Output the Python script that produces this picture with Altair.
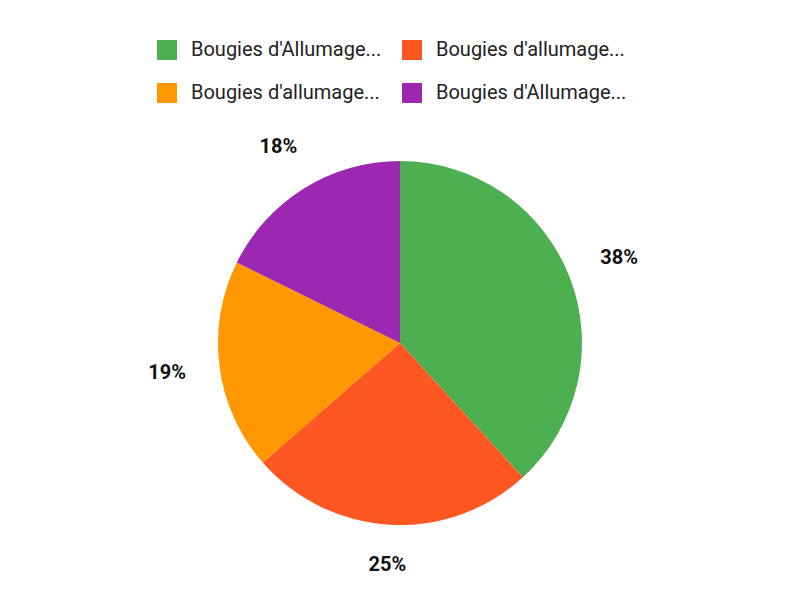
import json
import altair as alt
import pandas as pd

# --- data ---
keys = ["A", "B", "C", "D"]
labels = ["Bougies d'Allumage...", "Bougies d'allumage...",
          "Bougies d'allumage...", "Bougies d'Allumage..."]
values = [38.2, 25.4, 18.7, 17.7]
colors = ["#4CAF50", "#FF5722", "#FF9800", "#9C27B0"]

df = pd.DataFrame({"key": keys, "value": values, "ord": list(range(len(keys)))})
total = float(sum(values))

label_expr = "{}[indexof({}, datum.value)]".format(json.dumps(labels), json.dumps(keys))

color = alt.Color(
    "key:N",
    scale=alt.Scale(domain=keys, range=colors),
    legend=alt.Legend(
        title=None,
        orient="none",
        legendX=149,
        legendY=-62,
        direction="horizontal",
        columns=2,
        columnPadding=20,
        rowPadding=23,
        symbolType="square",
        symbolSize=400,
        symbolStrokeWidth=0,
        symbolOpacity=1,
        labelFont="Roboto",
        labelFontSize=20,
        labelColor="#222222",
        labelOffset=14,
        labelLimit=400,
        labelExpr=label_expr,
    ),
)

theta_scale = alt.Scale(domain=[0, total])

base = alt.Chart(df).transform_joinaggregate(
    total="sum(value)"
).transform_window(
    cum="sum(value)", sort=[alt.SortField("ord")], frame=[None, 0]
).transform_calculate(
    pct="round(100 * datum.value / datum.total) + '%'",
    midv="datum.cum - datum.value / 2",
    mid="2 * PI * (datum.cum - datum.value / 2) / datum.total",
    lr="214 + abs(sin(datum.mid)) * 20 + abs(cos(datum.mid)) * 7",
)

arc = base.mark_arc(outerRadius=182, stroke=None).encode(
    theta=alt.Theta("value:Q", stack=True, scale=theta_scale),
    color=color,
    order=alt.Order("ord:Q"),
)

text = base.mark_text(
    font="Roboto", fontSize=20, fontWeight="bold", color="#111111",
    align="center", baseline="middle",
).encode(
    theta=alt.Theta("midv:Q", stack=None, scale=theta_scale),
    radius=alt.Radius("lr:Q", scale=None),
    text="pct:N",
)

chart = alt.layer(arc, text).properties(
    width=784,
    height=482,
    padding={"left": 0, "right": 0, "top": 94, "bottom": 0},
    autosize="none",
).configure_view(stroke=None)

chart.save("out.html", embed_options={"renderer": "svg", "actions": False})
